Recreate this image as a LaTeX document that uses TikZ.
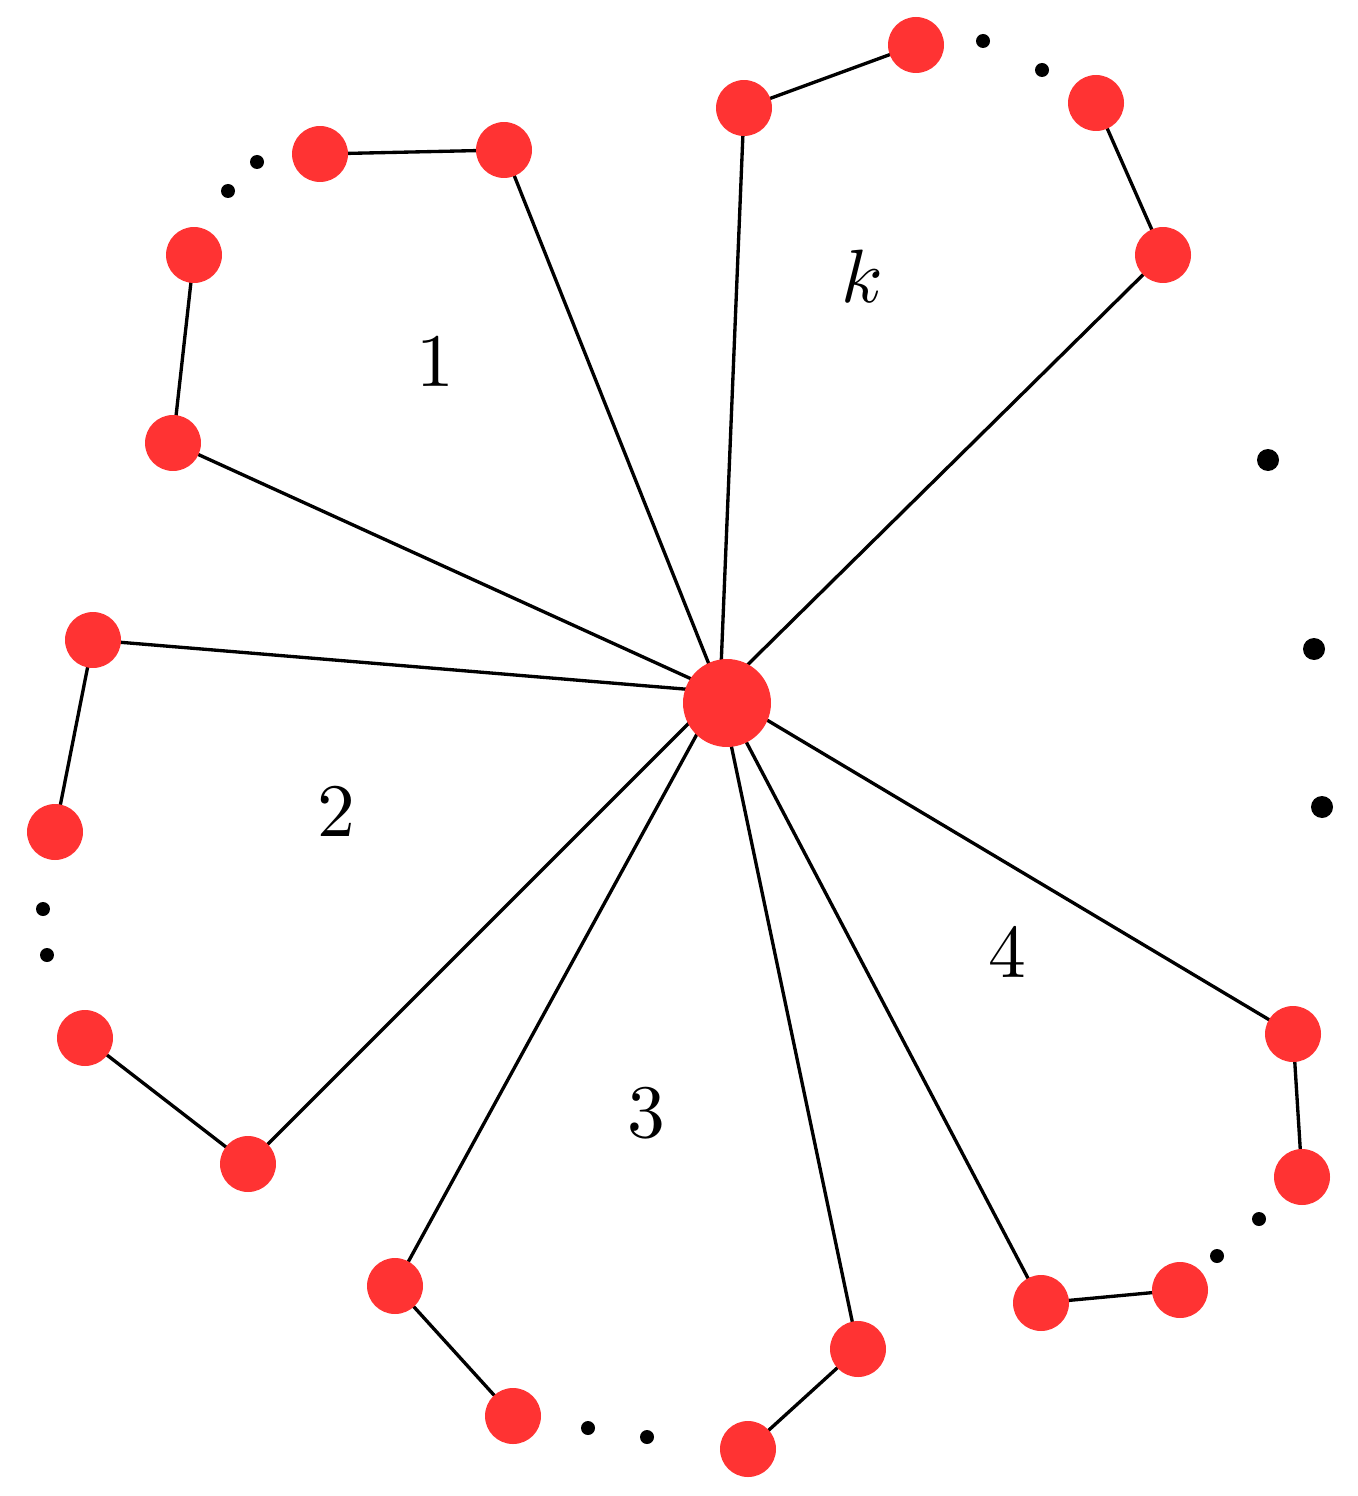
\documentclass[tikz,border=0pt]{standalone}
\definecolor{nred}{RGB}{255,51,51}
\newcommand{\biglab}[1]{\scalebox{4.3}{$#1$}}
\begin{document}
\begin{tikzpicture}[x=0.02cm,y=-0.02cm,
  v/.style={circle,fill=nred,minimum size=1.12cm,inner sep=0},
  sd/.style={circle,fill=black,minimum size=0.28cm,inner sep=0},
  bd/.style={circle,fill=black,minimum size=0.44cm,inner sep=0},
  e/.style={line width=1.9pt},
  lab/.style={inner sep=0}]
\useasboundingbox (0,0) rectangle (1357,1496);
\coordinate (H) at (720,692);
\foreach \n/\x/\y in {a1/173/443,a2/194/255,a3/320/154,a4/504/150,
 k1/744/108,k2/916/45,k3/1096/103,k4/1163/255,
 f1/1293/1034,f2/1302/1177,f3/1180/1290,f4/1041/1303,
 t1/858/1349,t2/748/1449,t3/513/1416,t4/395/1286,
 s1/248/1164,s2/85/1038,s3/55/832,s4/93/640}
  \coordinate (\n) at (\x,\y);
\foreach \n in {a1,a4,k1,k4,f1,f4,t1,t4,s1,s4} \draw[e] (H) -- (\n);
\foreach \p/\q in {a1/a2,a3/a4,k1/k2,k3/k4,f1/f2,f3/f4,t1/t2,t3/t4,s1/s2,s3/s4}
  \draw[e] (\p) -- (\q);
\node[v,minimum size=1.76cm] (C) at (727,703) {};
\foreach \n in {a1,a2,a3,a4,k1,k2,k3,k4,f1,f2,f3,f4,t1,t2,t3,t4,s1,s2,s3,s4}
  \node[v] (v\n) at (\n) {};
\foreach \n/\x/\y in {d1/228/191,d2/257/162,d3/983/41,d4/1042/70,
 d5/1259/1219,d6/1217/1256,d7/647/1437,d8/588/1428,d9/47/955,d10/43/909}
  \node[sd] (\n) at (\x,\y) {};
\node[bd] (b1) at (1268,460) {};
\node[bd] (b2) at (1314,649) {};
\node[bd] (b3) at (1322,807) {};
\node[lab] (l1) at (435,362) {\biglab{1}};
\node[lab] (lk) at (862,276) {\biglab{k}};
\node[lab] (l2) at (336,812) {\biglab{2}};
\node[lab] (l3) at (646,1113) {\biglab{3}};
\node[lab] (l4) at (1007,953) {\biglab{4}};
\end{tikzpicture}
\end{document}
